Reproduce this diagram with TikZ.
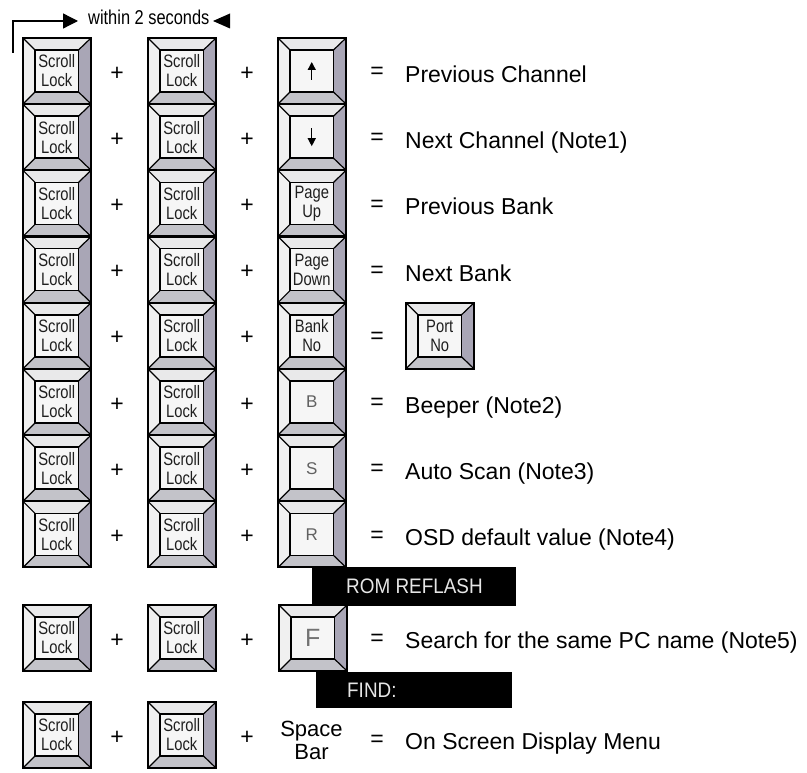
\documentclass[tikz,border=0pt]{standalone}
\usepackage{fontspec}
\setmainfont{Liberation Sans}
\newfontfamily\condf{Liberation Sans}[FakeStretch=0.82]
\newfontfamily\osdf{Liberation Sans}[FakeStretch=0.9]
\usetikzlibrary{arrows.meta}
\definecolor{keyface}{HTML}{F6F6F6}
\definecolor{keytop}{HTML}{E9E9EA}
\definecolor{keyleft}{HTML}{F0F0F0}
\definecolor{keyright}{HTML}{A9A6B6}
\definecolor{keybot}{HTML}{C3C3C9}
\definecolor{osdtxt}{HTML}{E6E6E6}
\tikzset{
  keytxt/.style={font=\condf\fontsize{18}{19}\selectfont,align=center,inner sep=0pt,text=black!88},
  keyltr/.style={font=\fontsize{17}{19}\selectfont,inner sep=0pt,text=black!62},
  sym/.style={font=\fontsize{23}{26}\selectfont,inner sep=0pt},
  desc/.style={font=\fontsize{23}{26}\selectfont,anchor=base west,inner sep=0pt},
  osdbar/.style={fill=black,text=osdtxt,font=\osdf\fontsize{21}{22}\selectfont,anchor=north west,inner ysep=0pt},
  keyarr/.style={-{Triangle[length=8pt,width=8pt]},line width=1.3pt},
  brk/.style={-{Triangle[length=15pt,width=15pt]},line width=1.3pt}
}
% key cap: [label style]{name}{left}{top}{label}
\newcommand{\kbkey}[5][keytxt]{%
  \begin{scope}[shift={(#3,#4)}]
    \fill[keytop] (0,0)--(68,0)--(55.5,12)--(12,12)--cycle;
    \fill[keyleft] (0,0)--(12,12)--(12,54)--(0,66)--cycle;
    \fill[keyright] (68,0)--(68,66)--(55.5,54)--(55.5,12)--cycle;
    \fill[keybot] (0,66)--(68,66)--(55.5,54)--(12,54)--cycle;
    \fill[keyface] (12,12) rectangle (55.5,54);
    \draw[line width=1.2pt] (0,0)--(12,12) (68,0)--(55.5,12) (0,66)--(12,54) (68,66)--(55.5,54);
    \draw[line width=1.5pt] (12,12) rectangle (55.5,54);
    \draw[line width=2pt] (0,0) rectangle (68,66);
    \node[#1] (#2) at (33.75,33) {#5};
  \end{scope}}

\begin{document}
\begin{tikzpicture}[x=1pt,y=-1pt]
\useasboundingbox (0,0) rectangle (807,773);
% within 2 seconds
\coordinate (brkfoot) at (13,53);
\coordinate (tipR) at (78,21);
\coordinate (tipL) at (213,21);
\draw[brk] (brkfoot) |- (tipR);
\node[font=\condf\fontsize{20}{22}\selectfont,inner sep=0pt,anchor=base west] (within) at (88,25) {within 2 seconds};
\fill (tipL) -- ++(17,-7.5) -- ++(0,15) -- cycle;

% stacked rows
\foreach \i/\yt in {1/38,2/104.2,3/170.4,4/236.6,5/302.8,6/369,7/435.2,8/501.4,9/605,10/702}{
  \kbkey{sa\i}{23}{\yt}{Scroll\\Lock}
  \kbkey{sb\i}{148}{\yt}{Scroll\\Lock}
  \node[sym] (pa\i) at (117,{\yt+35.5}) {+};
  \node[sym] (pb\i) at (247,{\yt+35.5}) {+};
}
\kbkey{k1}{278}{38}{}
\kbkey{k2}{278}{104.2}{}
\kbkey{k3}{278}{170.4}{Page\\Up}
\kbkey{k4}{278}{236.6}{Page\\Down}
\kbkey{k5}{278}{302.8}{Bank\\No}
\kbkey[keyltr]{k6}{278}{369}{B}
\kbkey[keyltr]{k7}{278}{435.2}{S}
\kbkey[keyltr]{k8}{278}{501.4}{R}
\kbkey[keyltr,font=\fontsize{25}{26}\selectfont,text=black!55]{k9}{279}{605}{F}
\draw[keyarr] ([yshift=-9pt]k1.center) -- ([yshift=9pt]k1.center);
\draw[keyarr] ([yshift=9pt]k2.center) -- ([yshift=-9pt]k2.center);
\node[font=\fontsize{22}{23}\selectfont,align=center,inner sep=0pt] (k10) at (311.5,740.5) {Space\\Bar};

\foreach \i/\yt in {1/38,2/104.2,3/170.4,4/236.6,5/302.8,6/369,7/435.2,8/501.4,9/605}{
  \node[sym] (eq\i) at (377,{\yt+35}) {=};
}
\node[sym] (eq10) at (377,741) {=};
\kbkey{port}{406}{302.8}{Port\\No}

\node[desc] (d1) at (405,82.5) {Previous Channel};
\node[desc] (d2) at (405,148.7) {Next Channel (Note1)};
\node[desc] (d3) at (405,214.9) {Previous Bank};
\node[desc] (d4) at (405,281.1) {Next Bank};
\node[desc] (d6) at (405,413.5) {Beeper (Note2)};
\node[desc] (d7) at (405,479.7) {Auto Scan (Note3)};
\node[desc] (d8) at (405,545.9) {OSD default value (Note4)};
\node[desc] (d9) at (405,648) {Search for the same PC name (Note5)};
\node[desc] (d10) at (405,749) {On Screen Display Menu};

% on-screen messages
\node[osdbar,inner xsep=34pt,minimum height=39pt] (rom) at (312,567) {\makebox[136pt][l]{ROM REFLASH}};
\node[osdbar,inner xsep=31pt,minimum height=36pt] (find) at (316,672) {\makebox[134pt][l]{FIND:}};
\end{tikzpicture}
\end{document}
